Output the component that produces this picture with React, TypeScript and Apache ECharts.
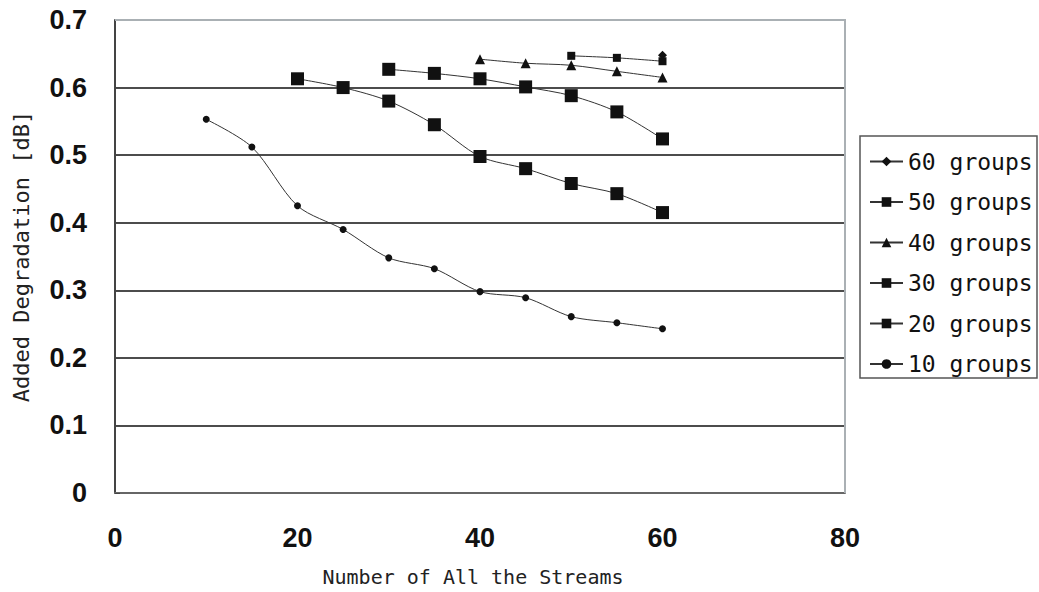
import React, { useEffect, useRef } from "react";
import * as echarts from "echarts";

// Stream counts (x) and added degradation in dB (y) for each group count
const streams10 = [10, 15, 20, 25, 30, 35, 40, 45, 50, 55, 60];
const groups10 = [0.553, 0.512, 0.425, 0.39, 0.348, 0.332, 0.298, 0.289, 0.261, 0.252, 0.243];

const streams20 = [20, 25, 30, 35, 40, 45, 50, 55, 60];
const groups20 = [0.613, 0.6, 0.58, 0.545, 0.498, 0.48, 0.458, 0.443, 0.415];

const streams30 = [30, 35, 40, 45, 50, 55, 60];
const groups30 = [0.627, 0.621, 0.613, 0.601, 0.588, 0.564, 0.524];

const streams40 = [40, 45, 50, 55, 60];
const groups40 = [0.642, 0.636, 0.633, 0.624, 0.615];

const streams50 = [50, 55, 60];
const groups50 = [0.647, 0.644, 0.639];

const streams60 = [60];
const groups60 = [0.648];

const legendOrder = ["60 groups", "50 groups", "40 groups", "30 groups", "20 groups", "10 groups"];

const xTicks = [0, 20, 40, 60, 80];
const yTicks = [0, 0.1, 0.2, 0.3, 0.4, 0.5, 0.6, 0.7];

const pairs = (xs: number[], ys: number[]) => xs.map((x, i) => [x, ys[i]]);

const MONO = "'DejaVu Sans Mono', 'Liberation Mono', monospace";
const NUM = "'Liberation Sans', Arial, sans-serif";

export default function App() {
  const ref = useRef<HTMLDivElement>(null);

  useEffect(() => {
    if (!ref.current) return;
    const chart = echarts.init(ref.current, undefined, { renderer: "svg" });

    const line = (name: string, xs: number[], ys: number[], symbol: string, size: number) => ({
      name,
      type: "line",
      data: pairs(xs, ys),
      smooth: 0.3,
      symbol,
      symbolSize: size,
      showAllSymbol: true,
      lineStyle: { color: "#333", width: 1 },
      itemStyle: { color: "#111", borderWidth: 0 },
    });

    chart.setOption({
      animation: false,
      backgroundColor: "#fff",
      grid: { left: 115, top: 20, width: 730, height: 473, show: false },
      xAxis: {
        type: "value",
        min: xTicks[0],
        max: xTicks[xTicks.length - 1],
        interval: 20,
        name: "Number of All the Streams",
        nameLocation: "middle",
        nameGap: 74,
        nameTextStyle: { fontFamily: MONO, fontSize: 20, color: "#222", padding: [0, 14, 0, 0] },
        axisLine: { show: true, lineStyle: { color: "#666", width: 2 } },
        axisTick: { show: false },
        splitLine: { show: false },
        axisLabel: {
          margin: 31,
          fontFamily: NUM,
          fontWeight: "bold",
          fontSize: 27,
          color: "#111",
        },
      },
      yAxis: {
        type: "value",
        min: yTicks[0],
        max: yTicks[yTicks.length - 1],
        interval: 0.1,
        name: "Added Degradation [dB]",
        nameLocation: "middle",
        nameGap: 83,
        nameRotate: 90,
        nameTextStyle: { fontFamily: MONO, fontSize: 22, color: "#222" },
        axisLine: { show: true, lineStyle: { color: "#444", width: 2 } },
        axisTick: { show: true, inside: true, length: 5, lineStyle: { color: "#444" } },
        splitLine: { show: true, lineStyle: { color: "#111", width: 1.5 } },
        axisLabel: {
          margin: 28,
          fontFamily: NUM,
          fontWeight: "bold",
          fontSize: 27,
          color: "#111",
          formatter: (v: number) => (v === 0 ? "0" : v.toFixed(1)),
        },
      },
      graphic: [
        // plot area frame (top and right edges)
        {
          type: "polyline",
          shape: { points: [[115, 20], [845, 20], [845, 493]] },
          style: { stroke: "#aab0b4", lineWidth: 2, fill: "none" },
          z: 5,
        },
        // legend frame
        {
          type: "rect",
          shape: { x: 860, y: 136, width: 177, height: 242 },
          style: { stroke: "#555", lineWidth: 1.5, fill: "#fff" },
          z: 0,
        },
      ],
      legend: {
        data: legendOrder,
        orient: "vertical",
        left: 869,
        top: 150,
        itemWidth: 33,
        itemHeight: 12,
        itemGap: 17.5,
        padding: 0,
        textStyle: { fontFamily: MONO, fontSize: 23, color: "#111", lineHeight: 22 },
        z: 10,
      },
      series: [
        line("10 groups", streams10, groups10, "circle", 7),
        line("20 groups", streams20, groups20, "rect", 13),
        line("30 groups", streams30, groups30, "rect", 13),
        line("40 groups", streams40, groups40, "triangle", 10),
        line("50 groups", streams50, groups50, "rect", 8),
        line("60 groups", streams60, groups60, "diamond", 9),
      ],
    });

    return () => chart.dispose();
  }, []);

  return (
    <div
      ref={ref}
      style={{ position: "fixed", left: 0, top: 0, width: 1039, height: 592, background: "#fff" }}
    />
  );
}
